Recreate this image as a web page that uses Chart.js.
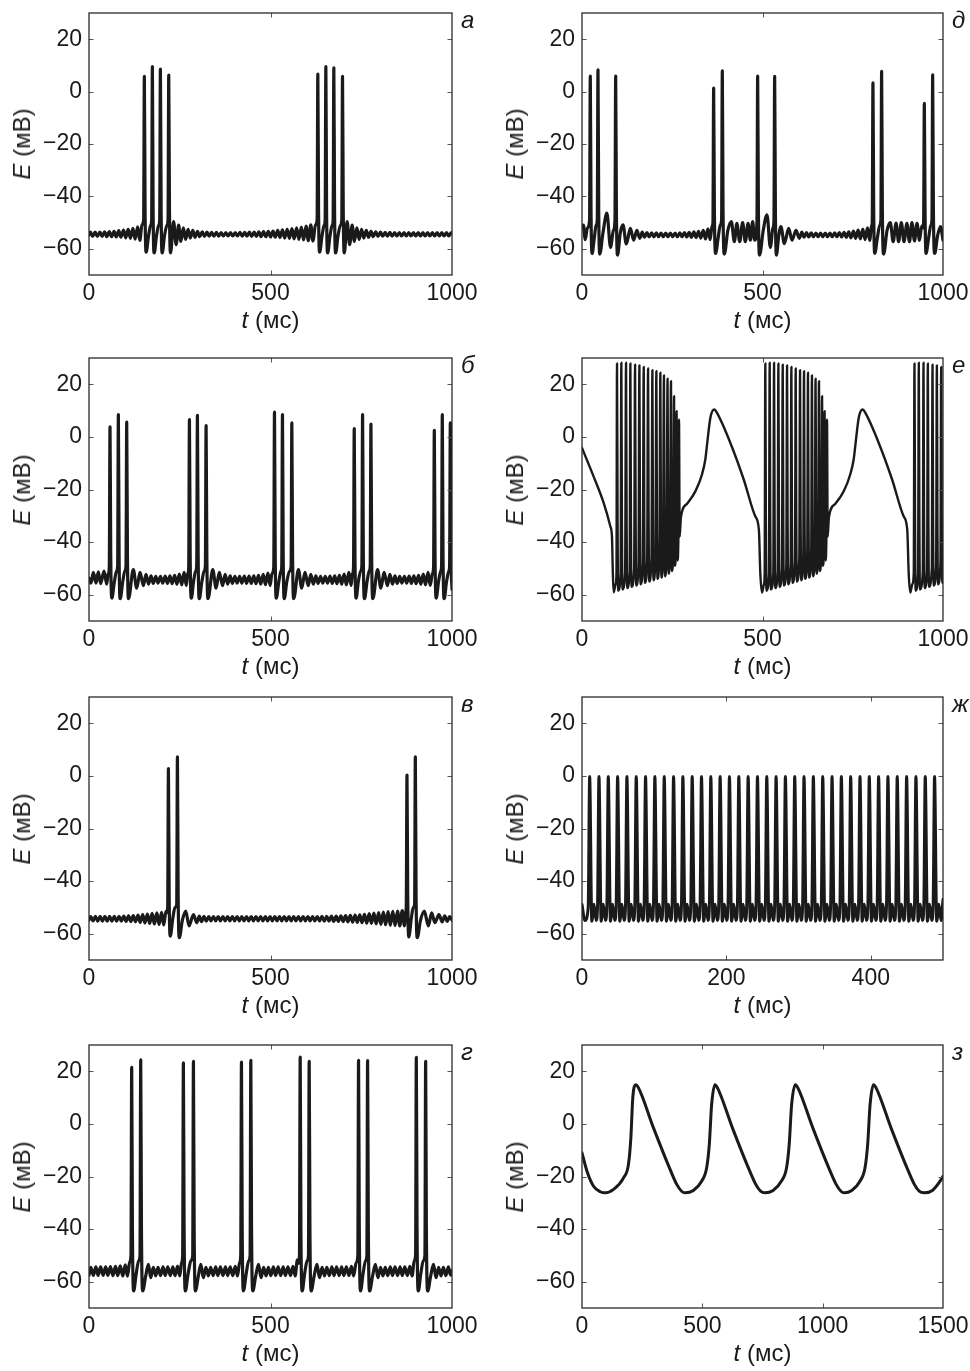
<!DOCTYPE html>
<html>
<head>
<meta charset="utf-8">
<script src="https://cdn.jsdelivr.net/npm/chart.js@4.4.1/dist/chart.umd.min.js"></script>
<style>
  html, body { margin: 0; padding: 0; background: #fff; }
  body { position: relative; width: 970px; height: 1371px; overflow: hidden;
         font-family: "Liberation Sans", Arial, Helvetica, sans-serif; color: #1a1a1a; }
  canvas { position: absolute; }
  .txt { position: absolute; font-size: 24px; line-height: 24px; white-space: nowrap; }
  .ytitle { transform: translate(-50%, -50%) rotate(-90deg); }
  .xtitle { transform: translateX(-50%); }
  .letter { font-style: italic; }
</style>
</head>
<body>
<script>
// ---- Membrane potential traces, E (mV) versus t (ms) ----
const yTicks = [-60, -40, -20, 0, 20];
const xTicks1000 = [0, 500, 1000];
const xTicks500 = [0, 200, 400];
const xTicks1500 = [0, 500, 1000, 1500];

// а: bursts of four spikes on a damped subthreshold oscillation
const traceA = [
  [0,-54.8],[4,-53.6],[10,-55.3],[17,-53.6],[23,-55.3],[30,-53.6],[36,-55.3],[43,-53.5],[49,-55.4],[56,-53.4],[62,-55.4],[69,-53.3],[75,-55.5],[82,-53.1],[88,-55.6],[95,-52.9],[101,-55.8],[108,-52.6],[114,-56],[121,-52.2],[127,-56.3],[134,-51.6],[140,-56.8],[146,-50.8],
  [150.5,-49],[152.5,5.8],[154.5,-45],[157.5,-61.3],[164,-55],[170,-51],
  [172.6,-49],[174.6,9.5],[176.6,-45],[179.6,-61.6],[186,-55],[192,-51],
  [194.7,-49],[196.7,8.6],[198.7,-45],[201.7,-61.6],[208,-55],[215,-51],
  [217.7,-49],[219.7,6.3],[221.7,-45],[224.7,-61.6],
  [233,-49.6],[240,-58.4],[247,-51],[253,-57.2],[260,-52],[266,-56.4],[273,-52.6],[279,-55.9],[286,-53],[292,-55.6],[299,-53.3],[305,-55.4],[312,-53.5],[318,-55.3],[325,-53.6],[331,-55.2],[338,-53.7],[344,-55.2],[351,-53.7],[357,-55.2],[364,-53.8],[370,-55.1],[377,-53.8],[383,-55.1],[390,-53.8],[396,-55.1],[403,-53.8],[409,-55.1],[416,-53.7],[422,-55.2],[429,-53.7],[435,-55.2],[442,-53.6],[448,-55.3],[455,-53.6],[461,-55.3],[468,-53.5],[474,-55.4],[481,-53.4],[487,-55.4],[494,-53.3],[500,-55.5],[507,-53.2],[513,-55.6],[520,-53],[526,-55.7],[533,-52.8],[539,-55.9],[546,-52.6],[552,-56],[559,-52.3],[565,-56.2],[572,-52],[578,-56.4],[585,-51.7],[591,-56.6],[598,-51.3],[604,-56.9],[611,-50.9],[617,-57],[624,-50.8],
  [628.4,-49],[630.4,6.7],[632.4,-45],[635.4,-61.3],[642,-55],[648,-51],
  [650.5,-49],[652.5,9.5],[654.5,-45],[657.5,-61.6],[664,-55],[670,-51],
  [672.5,-49],[674.5,9.1],[676.5,-45],[679.5,-61.6],[686,-55],[693,-51],
  [696.4,-49],[698.4,5.8],[700.4,-45],[703.4,-61.6],
  [711,-49.6],[718,-58.4],[725,-51],[731,-57.2],[738,-52],[744,-56.4],[751,-52.6],[757,-55.9],[764,-53],[770,-55.6],[777,-53.3],[783,-55.4],[790,-53.5],[796,-55.3],[803,-53.6],[809,-55.2],[816,-53.7],[822,-55.2],[829,-53.7],[835,-55.2],[842,-53.8],[848,-55.1],[855,-53.8],[861,-55.1],[868,-53.8],[874,-55.1],[881,-53.8],[887,-55.1],[894,-53.8],[900,-55.1],[907,-53.8],[913,-55.1],[920,-53.8],[926,-55.1],[933,-53.8],[939,-55.1],[946,-53.8],[952,-55.1],[959,-53.8],[965,-55.1],[972,-53.8],[978,-55.1],[985,-53.8],[991,-55.1],[998,-53.8],[1000,-54.2]
];

// д: irregular doublets and singlets
const traceD = [
  [0,-52],[4,-51],[9,-56.5],[15,-52],[21,-49],[23,5.9],[25,-45],[28,-61.8],[34,-56],[39,-51],
  [42.3,-49],[44.3,8.3],[46.3,-45],[49.3,-62],[58,-54],[69,-46.4],[79,-59.5],[87,-53],[91.3,-49],
  [93.3,5.9],[95.3,-45],[98.5,-62.4],[106,-54],[113.6,-50.9],[122.8,-58.2],[134,-52.2],[143,-56.7],[152,-53],[160,-56],[167,-53.6],[173,-55.6],[180,-53.8],[186,-55.4],[193,-53.9],[199,-55.4],[206,-53.9],[212,-55.4],[219,-54],[225,-55.4],[232,-54],[238,-55.4],[245,-54],[251,-55.4],[258,-54],[264,-55.4],[271,-53.9],[277,-55.4],[284,-53.8],[290,-55.5],[297,-53.7],[303,-55.6],[310,-53.5],[316,-55.7],[323,-53.3],[329,-55.9],[336,-53],[342,-56.2],[349,-52.4],[355,-56.5],[360,-51.5],
  [362.7,-50],[364.7,1.3],[366.7,-45],[370,-61.8],[377,-56],[383,-51],
  [386.7,-49],[388.7,7.9],[390.7,-45],[394.3,-62],[404,-53],[413.7,-49.6],[422,-57.3],[429,-50.3],[436.8,-57.3],[445,-50],[452.4,-57.3],[460,-50.3],[466.3,-56.7],[472.8,-49.6],[478.3,-56.7],[484.6,-50],
  [486.6,5.9],[488.6,-45],[492,-62.4],[502,-53],[512.5,-47],[521.7,-59.5],[529,-52],[531.7,-49],
  [533.7,5.8],[535.7,-45],[538.6,-62.4],[545,-55],[551,-51.5],[560.5,-58],[572.5,-52.2],[581.7,-56.7],[592.8,-53],[602,-56],[609,-53.6],[615,-55.6],[622,-53.8],[628,-55.5],[635,-53.9],[641,-55.4],[648,-54],[654,-55.4],[661,-54],[667,-55.4],[674,-54],[680,-55.4],[687,-54],[693,-55.4],[700,-53.9],[706,-55.4],[713,-53.8],[719,-55.5],[726,-53.7],[732,-55.6],[739,-53.5],[745,-55.8],[752,-53.2],[758,-56],[765,-52.9],[771,-56.2],[778,-52.5],[784,-56.5],[791,-52],[797,-56.8],[802,-51.3],
  [804,-50],[806,3.3],[808,-45],[811,-61.8],[818,-56],[825,-51],
  [828,-49],[830,7.7],[832,-45],[835.6,-62],[845,-53],[854,-50],[862,-57.3],[870,-50.2],[877,-57.3],[884.6,-50],[892,-57.3],[900,-50.3],[907,-57.3],[914,-50],[921,-57],[928,-50.3],[935,-56.8],[941,-51.3],[944.3,-52],
  [946.3,-50],[948.3,-4.5],[950.3,-46],[953,-61.8],[960,-56],[966.5,-51],
  [969.4,-49],[971.4,6.4],[973.4,-45],[977,-61.8],[985,-55],[993,-51.5],[1000,-56.7]
];

// б: regular triplets
const traceB = [
  [0,-53.7],[5.5,-55.6],[12,-51.5],[19.3,-55.6],[25.7,-51.3],[32.2,-55.8],[41.4,-51],[48.7,-56],[53,-52],
  [55.9,-49.5],[57.9,3.8],[59.9,-45],[63,-61.3],[70,-55],[76,-51],
  [78.9,-49],[80.9,8.5],[82.9,-45],[86,-61.5],[93,-55],[99,-51],
  [101.9,-49],[103.9,5.6],[105.9,-45],[109,-61.5],
  [122,-50.5],[131.4,-57.5],[140.6,-51.5],[149.8,-56.6],[157,-52.3],[164,-56],[171,-52.8],[177,-55.7],[184,-53],[190,-55.6],[197,-53],[203,-55.6],[210,-52.9],[216,-55.7],[223,-52.8],[229,-55.8],[236,-52.6],[242,-56],[249,-52.2],[255.5,-56.3],[262,-51.5],[268,-56.5],[272,-52],
  [274.7,-49.5],[276.7,6.6],[278.7,-45],[282,-61.3],[288,-55],[294,-51],
  [296.7,-49],[298.7,8.2],[300.7,-45],[304,-61.5],[311,-55],[317.5,-51],
  [320.6,-49],[322.6,4.3],[324.6,-45],[328,-61.5],
  [341,-50.5],[350,-57.5],[359,-51.5],[368,-56.6],[375,-52.3],[382,-56],[389,-52.8],[395,-55.7],[402,-53],[408,-55.6],[415,-53],[421,-55.6],[428,-52.9],[434,-55.7],[441,-52.9],[447,-55.7],[454,-52.8],[460,-55.8],[467,-52.6],[473,-56],[480,-52.3],[486,-56.2],[493,-51.8],[499,-56.5],[504,-52],
  [509,-49.5],[511,9.4],[513,-45],[516,-61.3],[523,-55],[529,-51],
  [531,-49],[533,8.5],[535,-45],[538,-61.5],[545,-55],[553,-51],
  [556.8,-49],[558.8,5.3],[560.8,-45],[564,-61.5],
  [577,-50.5],[586,-57.5],[595,-51.5],[604,-56.6],[611,-52.3],[618,-56],[625,-52.8],[631,-55.7],[638,-53],[644,-55.6],[651,-53],[657,-55.6],[664,-52.9],[670,-55.7],[677,-52.8],[683,-55.8],[690,-52.6],[696,-56],[703,-52.2],[709,-56.3],[716,-51.5],[722,-56.5],[726,-52],
  [728.7,-49.5],[730.7,3.2],[732.7,-45],[736,-61.3],[742,-55],[748.5,-51],
  [751.7,-49],[753.7,8.5],[755.7,-45],[759,-61.5],[766,-55],[772,-51],
  [774.7,-49],[776.7,4.9],[778.7,-45],[782,-61.5],
  [795,-50.5],[804,-57.5],[813,-51.5],[822,-56.6],[829,-52.3],[836,-56],[843,-52.8],[849,-55.7],[856,-53],[862,-55.6],[869,-53],[875,-55.6],[882,-52.9],[888,-55.7],[895,-52.8],[901,-55.8],[908,-52.6],[914,-56],[921,-52.2],[927,-56.3],[934,-51.5],[940,-56.5],[946,-52],
  [949.3,-49.5],[951.3,2.5],[953.3,-45],[956.5,-61.3],[963,-55],[969,-51],
  [971.3,-49],[973.3,8.5],[975.3,-45],[978.5,-61.5],[985,-55],[991.5,-51],
  [993.4,-49],[995.4,5.3],[997.4,-45],[1000,-58]
];

// е: long bursts riding on a slow wave
const traceE = [
  [0,-4.2],[32,-15],[60,-25.1],[78.5,-34],[83,-38],[85.5,-52],[87.7,-59.1],[93,-56],[95.5,-52],
  [97,27.9],[98.5,-30],[100,-58.5],[107,-52],
  [109,28.2],[110.5,-30],[112,-58],[119.5,-51.5],
  [122,28.2],[123.5,-30],[125,-57.5],[132,-51],
  [134,27.9],[135.5,-30],[137,-57],[144.5,-50],
  [147,27.5],[148.5,-30],[150,-56.5],[156.5,-49],
  [159,27.2],[160.5,-30],[162,-56],[168.5,-48],
  [171,26.6],[172.5,-30],[174,-55.5],[180.5,-47],
  [183,26],[184.5,-30],[186,-55],[192.5,-46],
  [195,25.4],[196.5,-30],[198,-54.5],[203.5,-45],
  [206,25],[207.5,-30],[209,-54],[214.5,-44],
  [217,24.4],[218.5,-30],[220,-53.5],[224.5,-43],
  [227,23.4],[228.5,-30],[230,-53],[234.5,-42],
  [237,22.1],[238.5,-30],[239.8,-52],[244,-41],
  [246.5,21.2],[247.8,-30],[249,-51],[253,-40],
  [255,15.5],[256.3,-30],[257.5,-49],[260,-40],
  [262,9.8],[263.3,-30],[264.5,-47],[267,-38],
  [268.7,6.6],[270.5,-38],[274,-30.5],
  [291,-25.4],[314,-20.7],[332.4,-14.3],[341.6,-8.6],[348,-1],[355.5,7.2],[366.6,10.4],[374,9.1],[411,-2.3],[448,-16.2],[480,-30.2],[490,-35.3],[494,-52],[498.6,-59.2],[504,-56],[506,-52],
  [507.8,27.9],[509.3,-30],[510.8,-58.5],[517.9,-52],
  [519.9,28.2],[521.4,-30],[522.9,-58],[530,-51.5],
  [532,28.2],[533.5,-30],[535,-57.5],[542,-51],
  [544,27.9],[545.5,-30],[547,-57],[554,-50],
  [556,27.5],[557.5,-30],[559,-56.5],[566,-49],
  [568,27.2],[569.5,-30],[571,-56],[578,-48],
  [580,26.6],[581.5,-30],[583,-55.5],[590,-47],
  [592,26],[593.5,-30],[595,-55],[602,-46],
  [604,25.4],[605.5,-30],[607,-54.5],[613,-45],
  [615,25],[616.5,-30],[618,-54],[624,-44],
  [626,24.4],[627.5,-30],[629,-53.5],[635,-43],
  [637,23.4],[638.5,-30],[640,-53],[645,-42],
  [647,22.1],[648.5,-30],[649.8,-52],[654.5,-41],
  [656.5,21.2],[657.8,-30],[659,-51],[663,-40],
  [665,15.5],[666.3,-30],[667.5,-49],[670,-40],
  [672,9.8],[673.3,-30],[674.5,-47],[677,-38],
  [678.7,6.6],[680.5,-38],[684,-30.5],
  [702,-25.4],[725,-20.7],[743,-14.3],[752.5,-8.6],[759,-1],[766.5,7.2],[777.5,10.4],[785,9.1],[822,-2.3],[859,-16.2],[891,-30.2],[901,-35.3],[905,-52],[909.5,-59.2],[915,-56],[919,-52],
  [921,27.9],[922.5,-30],[924,-58.5],[931,-52],
  [933,28.2],[934.5,-30],[936,-58],[944,-51.5],
  [946,28.2],[947.5,-30],[949,-57.5],[956,-51],
  [958,27.9],[959.5,-30],[961,-57],[969,-50],
  [971,27.5],[972.5,-30],[974,-56.5],[981,-49],
  [983,27.2],[984.5,-30],[986,-56],[993,-48],
  [995,26.6],[996.5,-30],[998,-55.5],[1000,-52]
];

// в: rare doublets
const traceV = [
  [0,-54.8],[5,-53.5],[11,-55.1],[18,-53.4],[24,-55.2],[31,-53.4],[37,-55.2],[44,-53.4],[50,-55.2],[57,-53.4],[63,-55.2],[70,-53.4],[76,-55.2],[83,-53.4],[89,-55.2],[96,-53.3],[102,-55.3],[109,-53.2],[115,-55.4],[122,-53.1],[128,-55.5],[135,-52.9],[141,-55.7],[148,-52.7],[154,-55.9],[161,-52.5],[167,-56.1],[174,-52.3],[180,-56.3],[187,-52.1],[193,-56.5],[200,-51.9],[206,-56.7],[212,-51.5],[215,-52],
  [216.8,-50],[218.8,2.8],[220.8,-45],[223.8,-60.9],[231,-54],[237,-50],
  [241.6,-49],[243.6,7.2],[245.6,-45],[249,-61.5],[257,-55],[266.5,-51.4],[275.7,-57],[287.7,-52.7],[296.9,-55.8],[304,-53.3],[310,-55.4],[317,-53.4],[323,-55.2],[330,-53.5],[336,-55.1],[343,-53.5],[349,-55.1],
  [356,-53.5],[362,-55.1],[369,-53.5],[375,-55.1],[382,-53.5],[388,-55.1],[395,-53.5],[401,-55.1],[408,-53.5],[414,-55.1],[421,-53.5],[427,-55.1],[434,-53.5],[440,-55.1],[447,-53.5],[453,-55.1],[460,-53.5],[466,-55.1],[473,-53.5],[479,-55.1],[486,-53.5],[492,-55.1],[499,-53.5],[505,-55.1],[512,-53.5],[518,-55.1],[525,-53.5],[531,-55.1],[538,-53.5],[544,-55.1],[551,-53.5],[557,-55.1],[564,-53.5],[570,-55.1],[577,-53.5],[583,-55.1],[590,-53.5],[596,-55.1],[603,-53.5],[609,-55.1],[616,-53.5],[622,-55.1],[629,-53.5],[635,-55.1],[642,-53.4],[648,-55.2],[655,-53.4],[661,-55.2],[668,-53.3],[674,-55.3],[681,-53.3],[687,-55.3],[694,-53.2],[700,-55.4],[707,-53.1],[713,-55.5],[720,-53],[726,-55.6],[733,-52.9],[739,-55.7],[746,-52.8],[752,-55.8],[759,-52.6],[765,-56],[772,-52.4],[778,-56.1],[785,-52.2],[791,-56.3],[798,-52],[804,-56.5],[811,-51.8],[817,-56.6],[824,-51.6],[830,-56.8],[837,-51.5],[843,-56.9],[850,-51.4],[856,-57],[863,-51.2],[869,-57],[872,-52],
  [874,-50],[876,0.3],[878,-45],[881,-61.2],[888,-54],[893.5,-50],
  [897,-49],[899,7.2],[901,-45],[904.4,-61.5],[913,-55],[923.8,-51.4],[934.8,-57],[944,-52.1],[953,-55.8],[964,-52.7],[973,-55.5],[980,-53.2],[987,-55.3],[993.5,-53.5],[1000,-54.8]
];

// ж: tonic spiking, 0–500 ms
const traceZh = [
  [0,-48.9],[4,-55],
  [8.6,-50],[10.6,-0.2],[13.6,-55.3],[16.6,-48.8],[19.6,-55],
  [21.5,-50],[23.5,-0.2],[26.5,-55.3],[29.5,-48.8],[32.5,-55],
  [34.4,-50],[36.4,-0.2],[39.4,-55.3],[42.4,-48.8],[45.4,-55],
  [47.3,-50],[49.3,-0.2],[52.3,-55.3],[55.3,-48.8],[58.3,-55],
  [60.2,-50],[62.2,-0.2],[65.2,-55.3],[68.2,-48.8],[71.2,-55],
  [73.1,-50],[75.1,-0.2],[78.1,-55.3],[81.1,-48.8],[84.1,-55],
  [86,-50],[88,-0.2],[91,-55.3],[94,-48.8],[97,-55],
  [98.9,-50],[100.9,-0.2],[103.9,-55.3],[106.9,-48.8],[109.9,-55],
  [111.9,-50],[113.9,-0.2],[116.9,-55.3],[119.9,-48.8],[122.9,-55],
  [124.8,-50],[126.8,-0.2],[129.8,-55.3],[132.8,-48.8],[135.8,-55],
  [137.7,-50],[139.7,-0.2],[142.7,-55.3],[145.7,-48.8],[148.7,-55],
  [150.6,-50],[152.6,-0.2],[155.6,-55.3],[158.6,-48.8],[161.6,-55],
  [163.5,-50],[165.5,-0.2],[168.5,-55.3],[171.5,-48.8],[174.5,-55],
  [176.4,-50],[178.4,-0.2],[181.4,-55.3],[184.4,-48.8],[187.4,-55],
  [189.3,-50],[191.3,-0.2],[194.3,-55.3],[197.3,-48.8],[200.3,-55],
  [202.2,-50],[204.2,-0.2],[207.2,-55.3],[210.2,-48.8],[213.2,-55],
  [215.2,-50],[217.2,-0.2],[220.2,-55.3],[223.2,-48.8],[226.2,-55],
  [228.1,-50],[230.1,-0.2],[233.1,-55.3],[236.1,-48.8],[239.1,-55],
  [241,-50],[243,-0.2],[246,-55.3],[249,-48.8],[252,-55],
  [253.9,-50],[255.9,-0.2],[258.9,-55.3],[261.9,-48.8],[264.9,-55],
  [266.8,-50],[268.8,-0.2],[271.8,-55.3],[274.8,-48.8],[277.8,-55],
  [279.7,-50],[281.7,-0.2],[284.7,-55.3],[287.7,-48.8],[290.7,-55],
  [292.6,-50],[294.6,-0.2],[297.6,-55.3],[300.6,-48.8],[303.6,-55],
  [305.5,-50],[307.5,-0.2],[310.5,-55.3],[313.5,-48.8],[316.5,-55],
  [318.4,-50],[320.4,-0.2],[323.4,-55.3],[326.4,-48.8],[329.4,-55],
  [331.4,-50],[333.4,-0.2],[336.4,-55.3],[339.4,-48.8],[342.4,-55],
  [344.3,-50],[346.3,-0.2],[349.3,-55.3],[352.3,-48.8],[355.3,-55],
  [357.2,-50],[359.2,-0.2],[362.2,-55.3],[365.2,-48.8],[368.2,-55],
  [370.1,-50],[372.1,-0.2],[375.1,-55.3],[378.1,-48.8],[381.1,-55],
  [383,-50],[385,-0.2],[388,-55.3],[391,-48.8],[394,-55],
  [395.9,-50],[397.9,-0.2],[400.9,-55.3],[403.9,-48.8],[406.9,-55],
  [408.8,-50],[410.8,-0.2],[413.8,-55.3],[416.8,-48.8],[419.8,-55],
  [421.7,-50],[423.7,-0.2],[426.7,-55.3],[429.7,-48.8],[432.7,-55],
  [434.6,-50],[436.6,-0.2],[439.6,-55.3],[442.6,-48.8],[445.6,-55],
  [447.6,-50],[449.6,-0.2],[452.6,-55.3],[455.6,-48.8],[458.6,-55],
  [460.5,-50],[462.5,-0.2],[465.5,-55.3],[468.5,-48.8],[471.5,-55],
  [473.4,-50],[475.4,-0.2],[478.4,-55.3],[481.4,-48.8],[484.4,-55],
  [486.3,-50],[488.3,-0.2],[491.3,-55.3],[494.3,-48.8],[497.3,-55],
  [500,-47]
];

// г: regular doublets with tall spikes
const traceG = [
  [0,-57.5],[5,-54.5],[12,-57.6],[19,-54.4],[25,-57.6],[32,-54.4],[39,-57.6],[46,-54.4],[52,-57.6],[59,-54.3],[66,-57.7],[73,-54.2],[79,-57.7],[86,-54],[93,-57.8],[100,-53.6],[106,-57.9],[112,-52.5],
  [115.6,-50],[117.6,21.5],[119.6,-40],[123,-63.5],[130,-57],[137,-52],
  [140.5,-50],[142.5,24.4],[144.5,-40],[148,-63.5],[156,-58],[163.6,-53.4],[170,-58.5],[177,-54.5],[184,-57.8],[190,-54.5],[197,-57.7],[204,-54.4],[210,-57.7],[217,-54.4],[224,-57.7],[231,-54.4],[237,-57.7],[244,-54.1],[250,-57.8],[255,-52.8],
  [258,-50],[260,23.2],[262,-40],[265.5,-63.5],[273,-57],[281,-52],
  [285.7,-50],[287.7,23.8],[289.7,-40],[293.2,-63.5],[301,-58],[308,-53.4],[315,-58.5],[322,-54.5],[329,-57.8],[335,-54.5],[342,-57.7],[349,-54.4],[355,-57.7],[362,-54.4],[369,-57.7],[376,-54.4],[382,-57.7],[389,-54.4],[396,-57.7],[403,-54.2],[409,-57.8],[415,-52.8],
  [418,-50],[420,23.5],[422,-40],[425.5,-63.5],[433,-57],[440,-52],
  [443.8,-50],[445.8,24.2],[447.8,-40],[451.3,-63.5],[459,-58],[467,-53.4],[474,-58.5],[481,-54.5],[488,-57.8],[494,-54.5],[501,-57.7],[508,-54.4],[514,-57.7],[521,-54.4],[528,-57.7],[535,-54.4],[541,-57.7],[548,-54.4],[555,-57.7],[562,-54.2],[568,-57.8],[574,-51.7],[577,-53],
  [579.8,-50],[581.8,25.4],[583.8,-40],[587.3,-63.5],[594,-57],[601,-52],
  [604.6,-50],[606.6,23.8],[608.6,-40],[612,-63.5],[620,-58],[628,-53.4],[635,-58.5],[642,-54.5],[649,-57.8],[655,-54.5],[662,-57.7],[669,-54.4],[675,-57.7],[682,-54.4],[689,-57.7],[696,-54.4],[702,-57.7],[709,-54.4],[716,-57.7],[723,-54.2],[729,-57.8],[736,-52.8],
  [740.6,-50],[742.6,24.2],[744.6,-40],[748,-63.5],[755,-57],[762,-52],
  [765.5,-50],[767.5,24.1],[769.5,-40],[773,-63.5],[781,-58],[789,-53.4],[796,-58.5],[803,-54.5],[810,-57.8],[816,-54.5],[823,-57.7],[830,-54.4],[836,-57.7],[843,-54.4],[850,-57.7],[857,-54.4],[863,-57.7],[870,-54.4],[877,-57.7],[884,-54.2],[890,-57.8],[896,-52],
  [899.7,-50],[901.7,25.3],[903.7,-40],[907.2,-63.5],[914,-57],[921,-52],
  [925.4,-50],[927.4,23.8],[929.4,-40],[933,-63.5],[941,-58],[949,-53.4],[956,-58.5],[963,-54.5],[970,-57.8],[976,-54.5],[983,-57.7],[990,-54.4],[996,-57.5],[1000,-55.8]
];

// з: slow oscillation without spikes, 0–1500 ms
const traceZ = [
  [0,-11],[20.7,-18],[48,-23.7],[76,-25.8],[96.7,-26.2],[131,-24.9],[172.6,-20.5],[193,-15.4],[203,-5.3],[211,9.9],[223.7,14.9],[234.8,13.7],[297,-1.5],[366,-17.3],[393.6,-23],[414,-25.6],[428,-26.2],[462.6,-25.3],[497,-21.8],[518,-16.7],[529,-7.8],[538.6,7.3],[552.4,14.9],[563,13.7],[625,-1.5],[694,-17.3],[722,-23],[742,-25.6],[759.6,-26.2],[794,-25.3],[828,-21.8],[850,-16.7],[861,-7.8],[871,7.3],[886.6,14.9],[897,13.7],[959,-1.5],[1028,-17.3],[1056,-23],[1076,-25.6],[1090,-26.2],[1121,-25.3],[1155,-21.8],[1176,-16.7],[1187,-7.8],[1197,7.3],[1211,14.9],[1222,13.7],[1284,-1.5],[1353,-17.3],[1381,-23],[1401,-25.6],[1422,-26.2],[1456,-25.3],[1490,-21.5],[1500,-19.9]
];

// ---- layout ----
const FONT = '"Liberation Sans", Arial, Helvetica, sans-serif';
const INK = '#1a1a1a';
const COLS = [{ x: 89, w: 363 }, { x: 582, w: 361 }];
const ROWS = [{ y: 13, h: 262 }, { y: 358, h: 263 }, { y: 697, h: 263 }, { y: 1045, h: 263 }];
const PAD_L = 80, PAD_T = 24, PAD_R = 38, PAD_B = 40;
const TICK_LEN = 4.5;
const BASE = 20.3;   // baseline offset of the 24px label line box

const panels = [
  { letter: 'а', col: 0, row: 0, trace: traceA, xMax: 1000, xTicks: xTicks1000, lw: 3.2 },
  { letter: 'д', col: 1, row: 0, trace: traceD, xMax: 1000, xTicks: xTicks1000, lw: 3.2 },
  { letter: 'б', col: 0, row: 1, trace: traceB, xMax: 1000, xTicks: xTicks1000, lw: 3.2 },
  { letter: 'е', col: 1, row: 1, trace: traceE, xMax: 1000, xTicks: xTicks1000, lw: 2.4 },
  { letter: 'в', col: 0, row: 2, trace: traceV, xMax: 1000, xTicks: xTicks1000, lw: 3.2 },
  { letter: 'ж', col: 1, row: 2, trace: traceZh, xMax: 500, xTicks: xTicks500, lw: 3.0 },
  { letter: 'г', col: 0, row: 3, trace: traceG, xMax: 1000, xTicks: xTicks1000, lw: 3.2 },
  { letter: 'з', col: 1, row: 3, trace: traceZ, xMax: 1500, xTicks: xTicks1500, lw: 3.0 }
];

Chart.defaults.font.family = FONT;
Chart.defaults.font.size = 23;
Chart.defaults.color = INK;

// box around the plot area plus short inward ticks on all four sides
const framePlugin = {
  id: 'frame',
  afterDraw(chart) {
    const { ctx, chartArea: a, scales: { x, y } } = chart;
    ctx.save();
    ctx.strokeStyle = '#555';
    ctx.lineWidth = 1;
    ctx.beginPath();
    x.ticks.forEach(t => {
      if (t.value <= x.min || t.value >= x.max) return;
      const px = Math.round(x.getPixelForValue(t.value)) + 0.5;
      ctx.moveTo(px, a.bottom); ctx.lineTo(px, a.bottom - TICK_LEN);
      ctx.moveTo(px, a.top); ctx.lineTo(px, a.top + TICK_LEN);
    });
    y.ticks.forEach(t => {
      const py = Math.round(y.getPixelForValue(t.value)) + 0.5;
      ctx.moveTo(a.left, py); ctx.lineTo(a.left + TICK_LEN, py);
      ctx.moveTo(a.right, py); ctx.lineTo(a.right - TICK_LEN, py);
    });
    ctx.stroke();
    ctx.strokeStyle = '#2a2a2a';
    ctx.lineWidth = 1.3;
    ctx.strokeRect(a.left, a.top, a.right - a.left, a.bottom - a.top);
    ctx.restore();
  }
};

function addText(html, cls, left, top) {
  const d = document.createElement('div');
  d.className = 'txt ' + cls;
  d.innerHTML = html;
  d.style.left = left + 'px';
  d.style.top = top + 'px';
  document.body.appendChild(d);
}

panels.forEach(p => {
  const c = COLS[p.col], r = ROWS[p.row];
  const W = c.w + PAD_L + PAD_R, H = r.h + PAD_T + PAD_B;
  const cv = document.createElement('canvas');
  cv.width = W; cv.height = H;
  cv.style.left = (c.x - PAD_L) + 'px';
  cv.style.top = (r.y - PAD_T) + 'px';
  cv.style.width = W + 'px'; cv.style.height = H + 'px';
  document.body.appendChild(cv);

  new Chart(cv, {
    type: 'line',
    data: {
      datasets: [{
        data: p.trace.map(([t, e]) => ({ x: t, y: e })),
        borderColor: INK,
        borderWidth: p.lw,
        pointRadius: 0,
        fill: false,
        cubicInterpolationMode: 'monotone',
        borderJoinStyle: 'round',
        borderCapStyle: 'round'
      }]
    },
    options: {
      responsive: false,
      animation: false,
      devicePixelRatio: 1,
      layout: { padding: { left: 0, top: PAD_T, right: PAD_R, bottom: 0 } },
      plugins: { legend: { display: false }, tooltip: { enabled: false } },
      scales: {
        x: {
          type: 'linear', min: 0, max: p.xMax,
          afterBuildTicks: s => { s.ticks = p.xTicks.map(v => ({ value: v })); },
          afterFit: s => { s.height = PAD_B; },
          grid: { display: false, drawTicks: false }, border: { display: false },
          ticks: { padding: 5, maxRotation: 0, autoSkip: false, color: INK, callback: v => String(v) }
        },
        y: {
          type: 'linear', min: -70, max: 30,
          afterBuildTicks: s => { s.ticks = yTicks.map(v => ({ value: v })); },
          afterFit: s => { s.width = PAD_L; },
          grid: { display: false, drawTicks: false }, border: { display: false },
          ticks: { padding: 7, autoSkip: false, color: INK,
                   callback: v => (v < 0 ? '\u2212' + Math.abs(v) : String(v)) }
        }
      }
    },
    plugins: [framePlugin]
  });

  // axis titles and panel letter
  addText('<i>E</i> (мВ)', 'ytitle', c.x - 67.3, r.y + r.h / 2);
  addText('<i>t</i> (мс)', 'xtitle', c.x + c.w / 2, r.y + r.h + 53 - BASE);
  addText(p.letter, 'letter', c.x + c.w + 9, r.y + 15 - BASE);
});
</script>
</body>
</html>
